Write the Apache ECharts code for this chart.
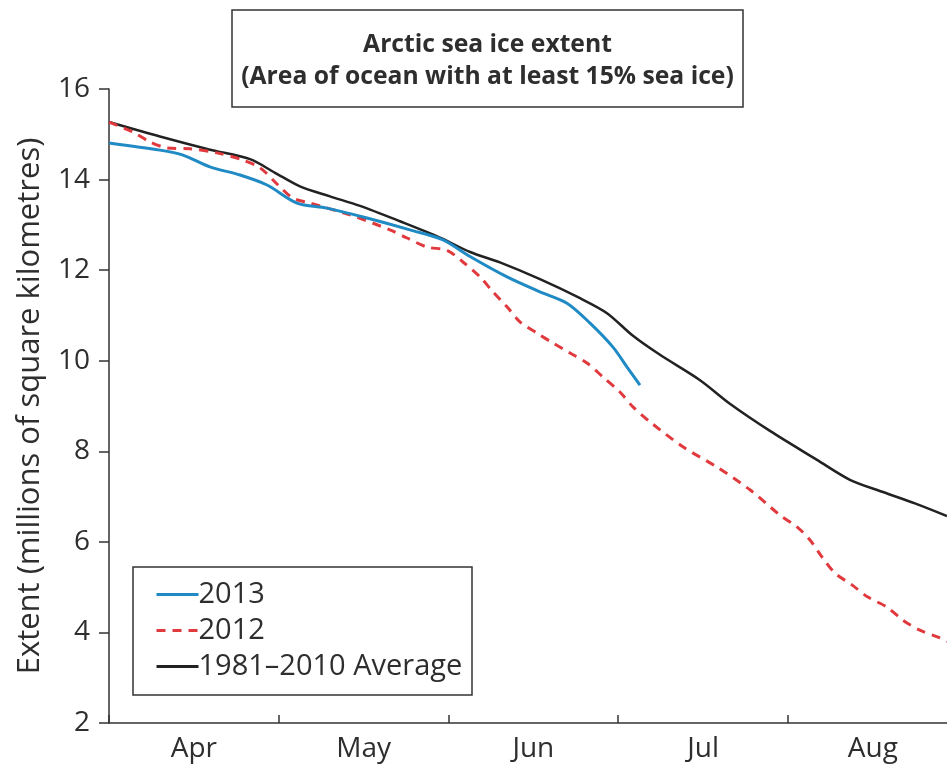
<!DOCTYPE html>
<html>
<head>
<meta charset="utf-8">
<title>Arctic sea ice extent</title>
<script src="https://cdn.jsdelivr.net/npm/echarts@6/dist/echarts.min.js"></script>
<style>
  html, body { margin: 0; padding: 0; background: #fff; }
  #chart { width: 947px; height: 774px; }
</style>
</head>
<body>
<div id="chart"></div>
<script>
// Time is measured in months from 1 April (0 = Apr 1, 1 = May 1, ...)
const monthLabels = ['Apr', 'May', 'Jun', 'Jul', 'Aug'];
const monthTicks = [0, 1, 2, 3, 4];
const monthCentres = [0.5, 1.5, 2.5, 3.5, 4.5];
const yTicks = [2, 4, 6, 8, 10, 12, 14, 16];

// 1981–2010 average extent (millions of km²)
const avgTime = [0, 0.300, 0.595, 0.831, 0.978, 1.125, 1.302, 1.479, 1.714, 1.950, 2.127, 2.303,
  2.539, 2.775, 2.934, 3.087, 3.246, 3.482, 3.658, 3.894, 4.171, 4.365, 4.560, 4.748, 4.937];
const avgExtent = [15.27, 14.95, 14.66, 14.45, 14.15, 13.85, 13.63, 13.42, 13.08, 12.72, 12.40, 12.17,
  11.80, 11.38, 11.05, 10.55, 10.13, 9.57, 9.05, 8.45, 7.81, 7.37, 7.10, 6.85, 6.57];

// 2013 extent
const y2013Time = [0, 0.300, 0.436, 0.595, 0.772, 0.931, 1.108, 1.284, 1.520, 1.773, 1.968, 2.127,
  2.345, 2.539, 2.698, 2.834, 2.969, 3.052, 3.128];
const y2013Extent = [14.81, 14.65, 14.54, 14.28, 14.10, 13.88, 13.48, 13.37, 13.15, 12.89, 12.67, 12.30,
  11.85, 11.52, 11.27, 10.83, 10.30, 9.86, 9.46];

// 2012 extent
const y2012Time = [0, 0.141, 0.242, 0.342, 0.477, 0.636, 0.789, 0.890, 0.996, 1.084, 1.184, 1.420,
  1.655, 1.756, 1.873, 1.991, 2.085, 2.186, 2.262, 2.345, 2.421, 2.521, 2.616, 2.716, 2.816, 2.910,
  3.010, 3.087, 3.187, 3.381, 3.582, 3.776, 3.953, 4.053, 4.130, 4.200, 4.277, 4.377, 4.471, 4.583,
  4.677, 4.777, 4.895, 4.937];
const y2012Extent = [15.27, 15.05, 14.83, 14.70, 14.68, 14.59, 14.43, 14.26, 13.88, 13.59, 13.48, 13.22,
  12.89, 12.71, 12.51, 12.44, 12.18, 11.85, 11.52, 11.19, 10.86, 10.61, 10.39, 10.17, 9.95, 9.64,
  9.31, 8.98, 8.65, 8.10, 7.65, 7.15, 6.59, 6.33, 6.04, 5.67, 5.31, 5.05, 4.78, 4.56,
  4.27, 4.05, 3.88, 3.80];

const zip = (xs, ys) => xs.map((x, i) => [x, ys[i]]);

const FONT = '"Open Sans", "Noto Sans", sans-serif';
const TXT = '#2e2e2e';

const chart = echarts.init(document.getElementById('chart'), null, { renderer: 'canvas' });

chart.setOption({
  animation: false,
  backgroundColor: '#fff',
  textStyle: { fontFamily: FONT },
  grid: { left: 109, right: 0, top: 89, bottom: 51, outerBoundsMode: 'none' },
  xAxis: {
    type: 'value',
    min: 0,
    max: 4.937,
    axisLine: { show: true, lineStyle: { color: '#333', width: 1.5 } },
    axisTick: { show: true, customValues: monthTicks, length: 8, inside: true, lineStyle: { color: '#333', width: 1.5 } },
    axisLabel: {
      customValues: monthCentres,
      formatter: v => monthLabels[Math.floor(v)],
      color: TXT, fontSize: 28, fontFamily: FONT, margin: 12
    },
    splitLine: { show: false }
  },
  yAxis: {
    type: 'value',
    min: 2,
    max: 16,
    interval: 2,
    name: 'Extent (millions of square kilometres)',
    nameLocation: 'middle',
    nameGap: 63,
    nameTextStyle: { color: TXT, fontSize: 31, fontFamily: FONT },
    axisLine: { show: true, lineStyle: { color: '#333', width: 1.5 } },
    axisTick: { show: true, length: 10, lineStyle: { color: '#333', width: 1.5 } },
    axisLabel: { color: TXT, fontSize: 28, fontFamily: FONT, margin: 19,
      customValues: yTicks },
    splitLine: { show: false }
  },
  legend: {
    orient: 'vertical',
    left: 150,
    top: 574,
    itemWidth: 42,
    itemHeight: 14,
    itemGap: 5,
    itemStyle: { opacity: 0 },
    lineStyle: { width: 3 },
    textStyle: { color: TXT, fontSize: 29, fontFamily: FONT, lineHeight: 31, padding: [0, 0, 0, -5] },
    data: ['2013', '2012', '1981–2010 Average']
  },
  graphic: [
    {
      type: 'rect',
      shape: { x: 232, y: 10, width: 511, height: 97 },
      style: { fill: '#fff', stroke: '#333', lineWidth: 1.5 },
      z: 10
    },
    {
      type: 'text',
      x: 487.5,
      y: 61,
      style: {
        text: 'Arctic sea ice extent\n(Area of ocean with at least 15% sea ice)',
        fontFamily: FONT, fontWeight: 'bold', fontSize: 24.7, lineHeight: 32,
        fill: TXT, align: 'center', verticalAlign: 'middle'
      },
      z: 11
    },
    {
      type: 'rect',
      shape: { x: 133, y: 567, width: 339, height: 128 },
      style: { fill: 'none', stroke: '#333', lineWidth: 1.5 },
      z: 10
    }
  ],
  series: [
    {
      name: '2013', type: 'line', smooth: 0.3, symbol: 'none',
      data: zip(y2013Time, y2013Extent),
      lineStyle: { color: '#1f8ac4', width: 3 },
      itemStyle: { color: '#1f8ac4' }, z: 3
    },
    {
      name: '2012', type: 'line', smooth: 0.3, symbol: 'none',
      data: zip(y2012Time, y2012Extent),
      lineStyle: { color: '#e03a3e', width: 3, type: [9, 7] },
      itemStyle: { color: '#e03a3e' }, z: 2
    },
    {
      name: '1981–2010 Average', type: 'line', smooth: 0.3, symbol: 'none',
      data: zip(avgTime, avgExtent),
      lineStyle: { color: '#222', width: 2.5 },
      itemStyle: { color: '#222' }, z: 1
    }
  ]
});
</script>
</body>
</html>
